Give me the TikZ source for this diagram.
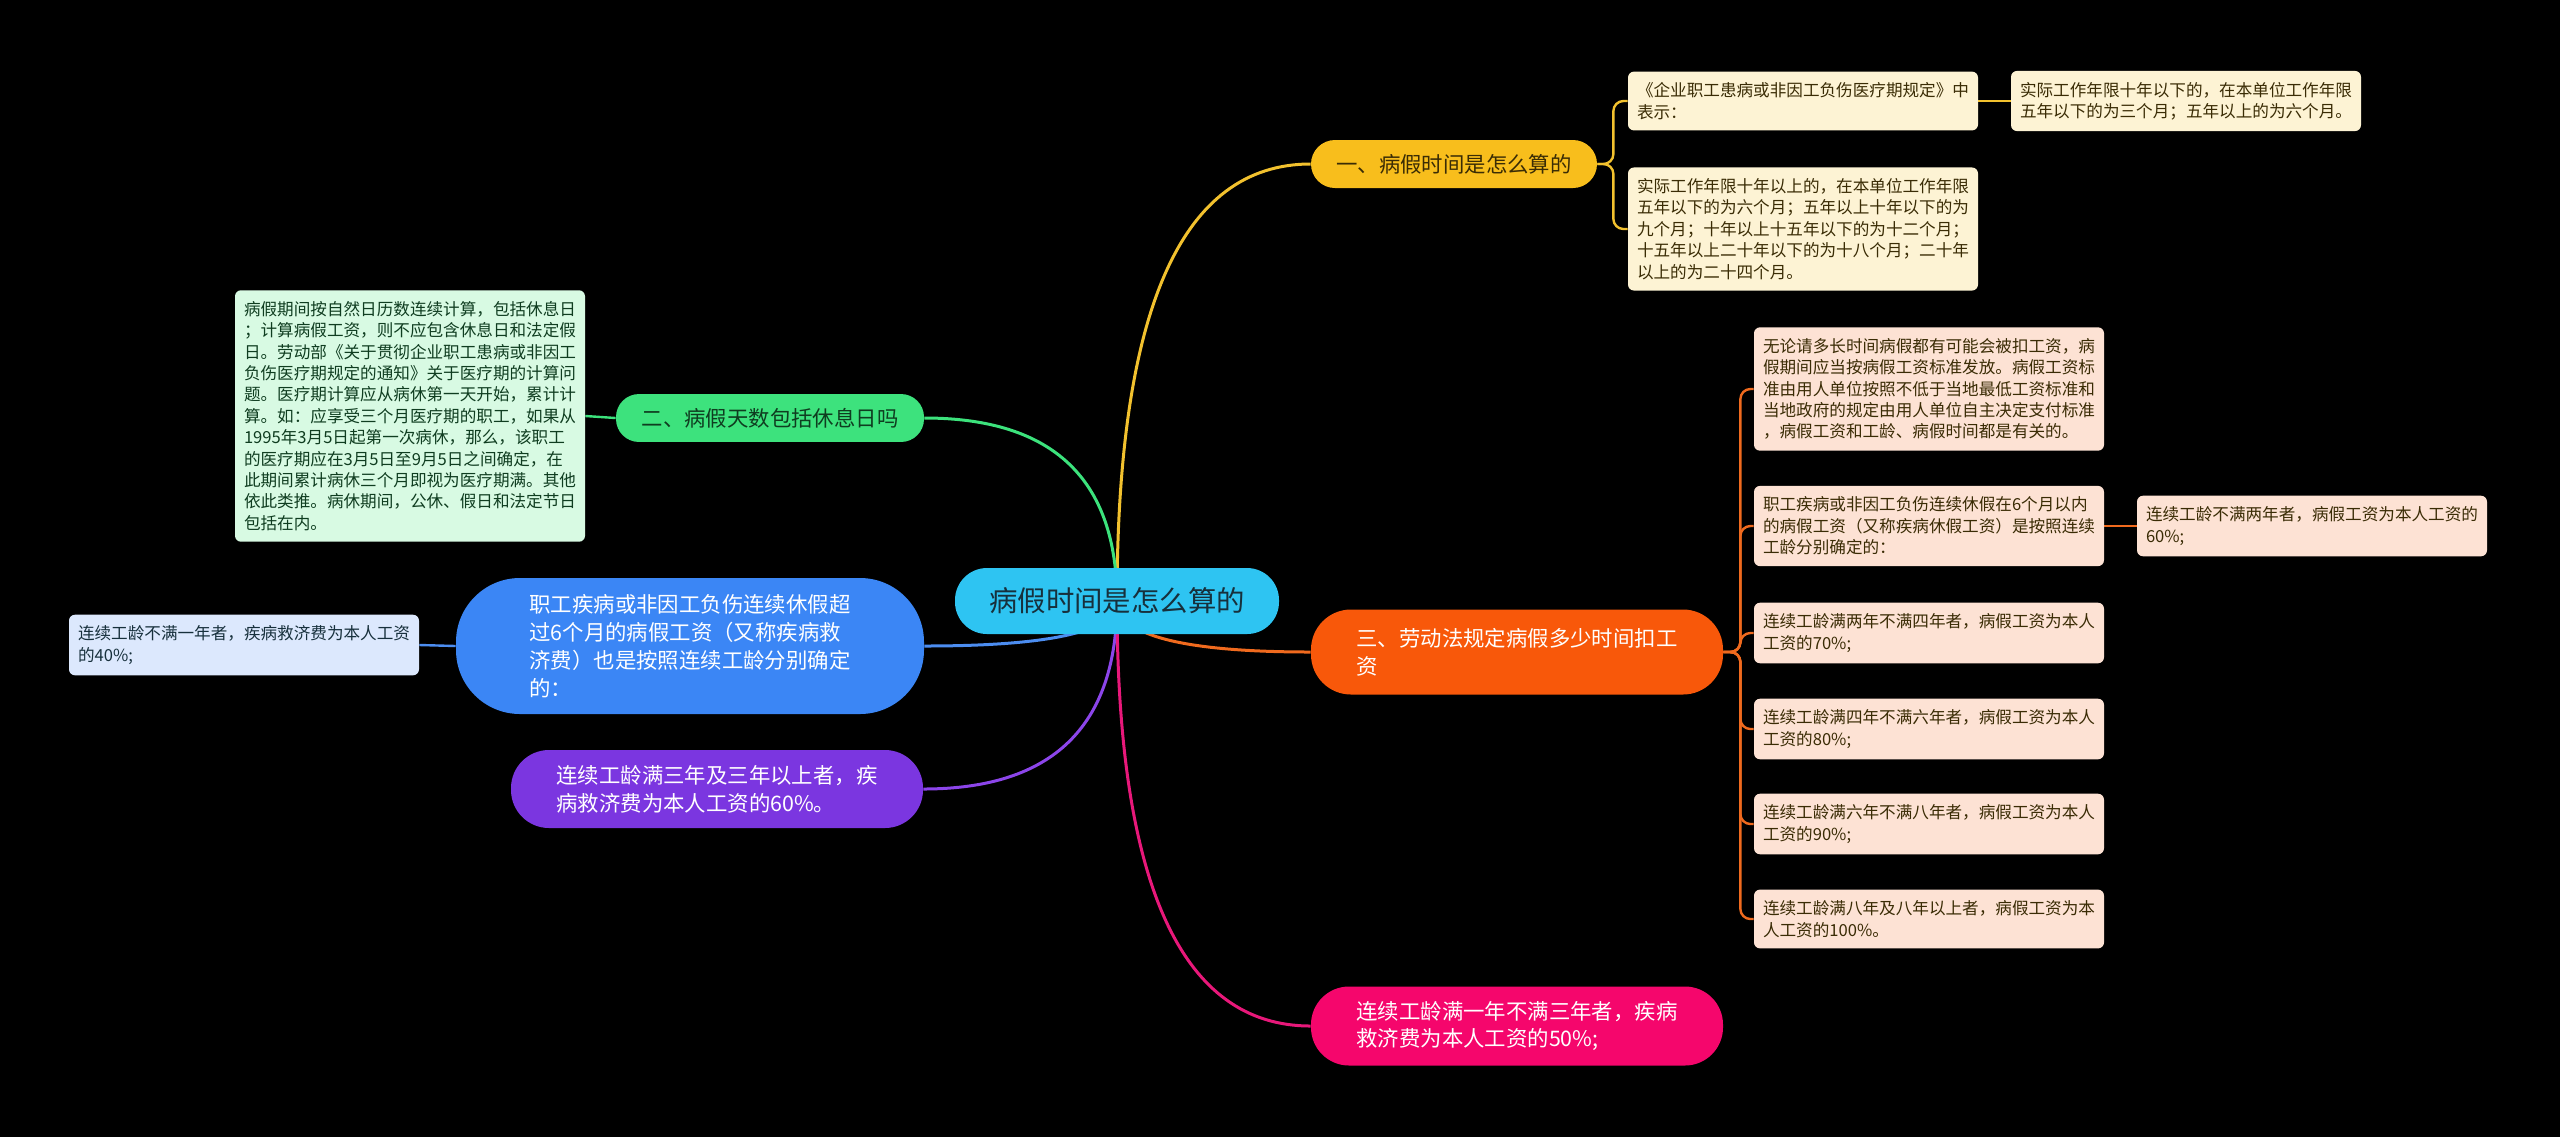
\documentclass[tikz,border=0pt]{standalone}
\usepackage{fontspec}
\setmainfont{Noto Sans CJK SC}
\usetikzlibrary{calc}
\pgfdeclarelayer{back}
\pgfdeclarelayer{wires}
\pgfsetlayers{back,wires,main}

\definecolor{rootfill}{HTML}{2EC4F2}
\definecolor{roottext}{HTML}{17303C}
\definecolor{yelfill}{HTML}{F8BE1C}
\definecolor{yeltext}{HTML}{3A2C05}
\definecolor{yelleaf}{HTML}{FDF3D4}
\definecolor{yelline}{HTML}{F2C12E}
\definecolor{grnfill}{HTML}{3DE27D}
\definecolor{grntext}{HTML}{0F3D20}
\definecolor{grnleaf}{HTML}{D8FAE3}
\definecolor{grnline}{HTML}{3CE27C}
\definecolor{blufill}{HTML}{3B86F5}
\definecolor{bluleaf}{HTML}{DCE8FD}
\definecolor{bluline}{HTML}{4C8DF0}
\definecolor{purfill}{HTML}{7B36E0}
\definecolor{purline}{HTML}{8C45EA}
\definecolor{orafill}{HTML}{F8580A}
\definecolor{oraleaf}{HTML}{FDE2D4}
\definecolor{oraline}{HTML}{F06A1E}
\definecolor{pnkfill}{HTML}{F5066C}
\definecolor{pnkline}{HTML}{E8187A}

\newcommand\leaffont{\fontsize{8.3}{10.7}\selectfont}
\newcommand\topicfont{\fontsize{10.7}{13.9}\selectfont}

\tikzset{
  root/.style={fill=rootfill, text=roottext, rounded corners=16pt,
    minimum width=162pt, minimum height=33pt, inner sep=0pt,
    font=\fontsize{14.2}{17}\selectfont},
  topic/.style={align=left, inner xsep=0pt, inner ysep=7pt, font=\topicfont},
  leaf/.style={align=left, inner xsep=4.5pt, inner ysep=5.5pt,
    rounded corners=3pt, minimum width=175pt, font=\leaffont},
  wire/.style={line width=1.5pt},
  twig/.style={line width=1.2pt, rounded corners=5pt},
  branch/.style={to path={.. controls ($(\tikztostart)!.667!(\tikztostart|-\tikztotarget)$)
    and ($(\tikztotarget)!.667!(\tikztostart|-\tikztotarget)$) .. (\tikztotarget)}}
}

\begin{document}
\begin{tikzpicture}[x=0.5pt,y=-0.5pt]
\useasboundingbox (0,0) rectangle (2560,1137);
\begin{pgfonlayer}{back}
  \fill[black] (0,0) rectangle (2560,1137);
\end{pgfonlayer}

% centre
\node[root] (ctr) at (1117,601) {病假时间是怎么算的};

% main topics
\node[topic, fill=yelfill, text=yeltext, minimum width=143pt, minimum height=24pt, rounded corners=12pt] (t1) at (1454,164) {一、病假时间是怎么算的};
\node[topic, fill=grnfill, text=grntext, minimum width=154pt, minimum height=23.5pt, rounded corners=11.5pt] (t2) at (770,418) {二、病假天数包括休息日吗};
\node[topic, fill=blufill, text=white, minimum width=234pt, minimum height=68pt, rounded corners=32pt] (t3) at (690,646) {职工疾病或非因工负伤连续休假超\\过6个月的病假工资（又称疾病救\\济费）也是按照连续工龄分别确定\\的：};
\node[topic, fill=purfill, text=white, minimum width=206pt, minimum height=39pt, rounded corners=19pt] (t4) at (717,789) {连续工龄满三年及三年以上者，疾\\病救济费为本人工资的60\%。};
\node[topic, fill=orafill, text=white, minimum width=206pt, minimum height=42.5pt, rounded corners=20pt] (t5) at (1517,652) {三、劳动法规定病假多少时间扣工\\资};
\node[topic, fill=pnkfill, text=white, minimum width=206pt, minimum height=39.5pt, rounded corners=19pt] (t6) at (1517,1026) {连续工龄满一年不满三年者，疾病\\救济费为本人工资的50\%;};

% yellow leaves
\node[leaf, fill=yelleaf, text=yeltext] (l1a) at (1803,101) {《企业职工患病或非因工负伤医疗期规定》中\\表示：};
\node[leaf, fill=yelleaf, text=yeltext] (l1b) at (1803,229) {实际工作年限十年以上的，在本单位工作年限\\五年以下的为六个月；五年以上十年以下的为\\九个月；十年以上十五年以下的为十二个月；\\十五年以上二十年以下的为十八个月；二十年\\以上的为二十四个月。};
\node[leaf, fill=yelleaf, text=yeltext] (l1c) at (2186,101) {实际工作年限十年以下的，在本单位工作年限\\五年以下的为三个月；五年以上的为六个月。};

% green leaf
\node[leaf, fill=grnleaf, text=grntext] (l2a) at (410,416) {病假期间按自然日历数连续计算，包括休息日\\；计算病假工资，则不应包含休息日和法定假\\日。劳动部《关于贯彻企业职工患病或非因工\\负伤医疗期规定的通知》关于医疗期的计算问\\题。医疗期计算应从病休第一天开始，累计计\\算。如：应享受三个月医疗期的职工，如果从\\1995年3月5日起第一次病休，那么，该职工\\的医疗期应在3月5日至9月5日之间确定，在\\此期间累计病休三个月即视为医疗期满。其他\\依此类推。病休期间，公休、假日和法定节日\\包括在内。};

% blue leaf
\node[leaf, fill=bluleaf, text=roottext] (l3a) at (244,645) {连续工龄不满一年者，疾病救济费为本人工资\\的40\%;};

% orange leaves
\node[leaf, fill=oraleaf, text=yeltext] (l5a) at (1929,389) {无论请多长时间病假都有可能会被扣工资，病\\假期间应当按病假工资标准发放。病假工资标\\准由用人单位按照不低于当地最低工资标准和\\当地政府的规定由用人单位自主决定支付标准\\，病假工资和工龄、病假时间都是有关的。};
\node[leaf, fill=oraleaf, text=yeltext] (l5b) at (1929,526) {职工疾病或非因工负伤连续休假在6个月以内\\的病假工资（又称疾病休假工资）是按照连续\\工龄分别确定的：};
\node[leaf, fill=oraleaf, text=yeltext] (l5c) at (1929,633) {连续工龄满两年不满四年者，病假工资为本人\\工资的70\%;};
\node[leaf, fill=oraleaf, text=yeltext] (l5d) at (1929,729) {连续工龄满四年不满六年者，病假工资为本人\\工资的80\%;};
\node[leaf, fill=oraleaf, text=yeltext] (l5e) at (1929,824) {连续工龄满六年不满八年者，病假工资为本人\\工资的90\%;};
\node[leaf, fill=oraleaf, text=yeltext] (l5f) at (1929,919) {连续工龄满八年及八年以上者，病假工资为本\\人工资的100\%。};
\node[leaf, fill=oraleaf, text=yeltext] (l5g) at (2312,526) {连续工龄不满两年者，病假工资为本人工资的\\60\%;};

% connectors
\begin{pgfonlayer}{wires}
  \draw[wire, yelline] (ctr.center) to[branch] (t1.west);
  \draw[wire, grnline] (ctr.center) to[branch] (t2.east);
  \draw[wire, bluline] (ctr.center) to[branch] (t3.east);
  \draw[wire, purline] (ctr.center) to[branch] (t4.east);
  \draw[wire, oraline] (ctr.center) to[branch] (t5.west);
  \draw[wire, pnkline] (ctr.center) to[branch] (t6.west);

  \draw[twig, yelline] (t1.east) -- ++(16,0) |- (l1a.west);
  \draw[twig, yelline] (t1.east) -- ++(16,0) |- (l1b.west);
  \draw[twig, yelline] (l1a.east) -- (l1c.west);

  \draw[twig, grnline] (t2.west) -- (l2a.east);
  \draw[twig, bluline] (t3.west) -- (l3a.east);

  \foreach \leafname in {l5a,l5b,l5c,l5d,l5e,l5f}
    \draw[twig, oraline] (t5.east) -- ++(17,0) |- (\leafname.west);
  \draw[twig, oraline] (l5b.east) -- (l5g.west);
\end{pgfonlayer}
\end{tikzpicture}
\end{document}
